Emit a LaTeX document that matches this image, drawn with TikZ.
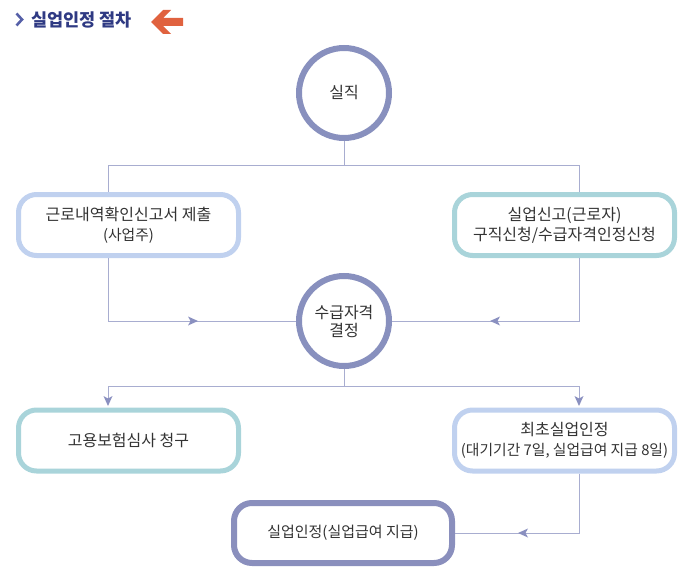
\documentclass[tikz,border=0pt]{standalone}
\usepackage{fontspec}
\setmainfont{Noto Sans CJK KR}
\usetikzlibrary{arrows.meta}
\definecolor{txt}{HTML}{333333}
\definecolor{lineC}{HTML}{A8ADD0}
\definecolor{tipC}{HTML}{8A90C0}
\definecolor{circC}{HTML}{8890BE}
\definecolor{blueC}{HTML}{C0D1EF}
\definecolor{tealC}{HTML}{A9D4DA}
\definecolor{darkC}{HTML}{8A8FBD}
\definecolor{titleC}{HTML}{2F3A83}
\definecolor{chevC}{HTML}{5660A8}
\definecolor{redC}{HTML}{E0623F}
\newcommand{\subtxt}{\fontsize{14.8}{20}\selectfont}
\tikzset{
  circnode/.style={circle, draw=circC, line width=6pt, fill=white, minimum size=90pt, inner sep=0pt, align=center, text=txt, font=\fontsize{16}{18}\selectfont},
  boxnode/.style={rectangle, rounded corners=18pt, line width=5pt, fill=white, minimum width=220pt, minimum height=61pt, inner sep=0pt, align=center, text=txt, font=\fontsize{16}{20}\selectfont},
  conn/.style={draw=lineC, line width=1pt},
  tipline/.style={draw=lineC, line width=1pt, -{Stealth[length=10pt, width=9pt, inset=2.5pt, line width=0pt, color=tipC, fill=tipC]}}
}
\begin{document}
\begin{tikzpicture}[x=1pt, y=-1pt]
\useasboundingbox (0,0) rectangle (700,572);
% title
\draw[chevC, line width=2.6pt, line cap=butt, line join=miter] (16.5,13.5) -- (22,19.5) -- (16.5,25.5);
\node[anchor=west, text=titleC, font=\fontsize{17.5}{19}\selectfont\bfseries, inner sep=0pt] (title) at (31,20) {실업인정 절차};
\fill[redC] (151,22) -- (163,10) -- (171,10) -- (163,18) -- (183,18) -- (183,26) -- (163,26) -- (171,34) -- (163,34) -- cycle;
% nodes
\node[circnode] (c1) at (344,93) {실직};
\node[circnode] (c2) at (344,321) {수급자격\\결정};
\node[boxnode, draw=blueC] (b1) at (128.5,225) {근로내역확인신고서 제출\\{\subtxt(사업주)}};
\node[boxnode, draw=tealC] (b2) at (564.5,225) {실업신고(근로자)\\구직신청/수급자격인정신청};
\node[boxnode, draw=tealC] (b3) at (128.5,440.5) {고용보험심사 청구};
\node[boxnode, draw=blueC] (b4) at (564.5,440.5) {최초실업인정\\{\subtxt(대기기간 7일, 실업급여 지급 8일)}};
\node[boxnode, draw=darkC, line width=6pt, minimum width=218pt, minimum height=60pt, font=\fontsize{15}{20}\selectfont] (b5) at (343,533) {실업인정(실업급여 지급)};
% coordinates
\coordinate (xl) at (108,0);
\coordinate (xr) at (579,0);
\coordinate (j1) at (344,165);
\coordinate (j2) at (344,386);
\coordinate (m1) at (198,321);
\coordinate (m2) at (490,321);
\coordinate (m3) at (518,533);
% connectors
\draw[conn] (c1.south) -- (j1);
\draw[conn] (j1) -| (xl |- b1.north);
\draw[conn] (j1) -| (xr |- b2.north);
\draw[conn] (xl |- b1.south) |- (c2.west);
\draw[conn] (xr |- b2.south) |- (c2.east);
\draw[tipline] (xl |- c2.west) -- (m1);
\draw[tipline] (xr |- c2.east) -- (m2);
\draw[conn] (c2.south) -- (j2);
\draw[conn] (j2) -- (xl |- j2);
\draw[conn] (j2) -- (xr |- j2);
\draw[tipline] (xl |- j2) -- ([yshift=1.5pt]xl |- b3.north);
\draw[tipline] (xr |- j2) -- ([yshift=1.5pt]xr |- b4.north);
\draw[conn] (xr |- b4.south) |- (b5.east);
\draw[tipline] (xr |- b5.east) -- (m3);
\end{tikzpicture}
\end{document}
